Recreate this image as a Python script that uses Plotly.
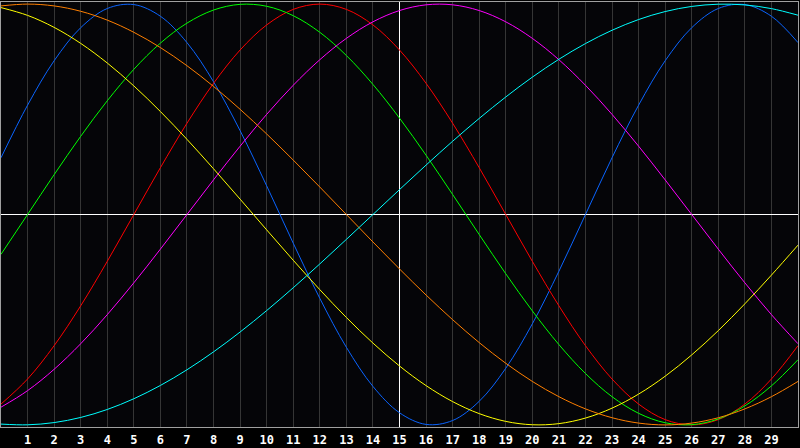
import plotly.graph_objects as go

days = list(range(0, 31))
tick_vals = list(range(1, 30))
tick_text = [str(v) for v in tick_vals]
today = 15

physical = [0.2698, 0.5196, 0.7308, 0.8879, 0.9791, 0.9977, 0.9423, 0.8170, 0.6311, 0.3984, 0.1362,
            -0.1362, -0.3984, -0.6311, -0.8170, -0.9423, -0.9977, -0.9791, -0.8879, -0.7308, -0.5196,
            -0.2698, 0.0, 0.2698, 0.5196, 0.7308, 0.8879, 0.9791, 0.9977, 0.9423, 0.8170]
emotional = [-0.9010, -0.7818, -0.6235, -0.4339, -0.2225, 0.0, 0.2225, 0.4339, 0.6235, 0.7818, 0.9010,
             0.9749, 1.0, 0.9749, 0.9010, 0.7818, 0.6235, 0.4339, 0.2225, 0.0, -0.2225, -0.4339,
             -0.6235, -0.7818, -0.9010, -0.9749, -1.0, -0.9749, -0.9010, -0.7818, -0.6235]
intellectual = [-0.1893, 0.0, 0.1893, 0.3717, 0.5406, 0.6901, 0.8146, 0.9096, 0.9718, 0.9989, 0.9898,
                0.9450, 0.8660, 0.7557, 0.6182, 0.4582, 0.2817, 0.0951, -0.0951, -0.2817, -0.4582,
                -0.6182, -0.7557, -0.8660, -0.9450, -0.9898, -0.9989, -0.9718, -0.9096, -0.8146, -0.6901]
intuitive = [-0.9158, -0.8372, -0.7357, -0.6142, -0.4759, -0.3247, -0.1646, 0.0, 0.1646, 0.3247, 0.4759,
             0.6142, 0.7357, 0.8372, 0.9158, 0.9694, 0.9966, 0.9966, 0.9694, 0.9158, 0.8372, 0.7357,
             0.6142, 0.4759, 0.3247, 0.1646, 0.0, -0.1646, -0.3247, -0.4759, -0.6142]
aesthetic = [0.9834, 0.9464, 0.8893, 0.8133, 0.7200, 0.6112, 0.4894, 0.3572, 0.2174, 0.0730, -0.0730,
             -0.2174, -0.3572, -0.4894, -0.6112, -0.7200, -0.8133, -0.8893, -0.9464, -0.9834, -0.9993,
             -0.9940, -0.9675, -0.9204, -0.8536, -0.7686, -0.6673, -0.5518, -0.4244, -0.2881, -0.1456]
awareness = [0.9914, 1.0, 0.9914, 0.9659, 0.9239, 0.8660, 0.7934, 0.7071, 0.6088, 0.5, 0.3827, 0.2588,
             0.1305, 0.0, -0.1305, -0.2588, -0.3827, -0.5, -0.6088, -0.7071, -0.7934, -0.8660, -0.9239,
             -0.9659, -0.9914, -1.0, -0.9914, -0.9659, -0.9239, -0.8660, -0.7934]
spiritual = [-0.9961, -0.9996, -0.9890, -0.9646, -0.9267, -0.8757, -0.8125, -0.7379, -0.6529, -0.5586,
             -0.4566, -0.3482, -0.2349, -0.1183, 0.0, 0.1183, 0.2349, 0.3482, 0.4566, 0.5586, 0.6529,
             0.7379, 0.8125, 0.8757, 0.9267, 0.9646, 0.9890, 0.9996, 0.9961, 0.9786, 0.9473]

series = [
    ("Physical", physical, "#0a64ff"),
    ("Emotional", emotional, "#ff0000"),
    ("Intellectual", intellectual, "#00ff00"),
    ("Intuitive", intuitive, "#ff00ff"),
    ("Aesthetic", aesthetic, "#ffff00"),
    ("Awareness", awareness, "#ff7f00"),
    ("Spiritual", spiritual, "#00ffff"),
]

fig = go.Figure()
# anchor trace so the overlaying "today" axis (white gridline) is rendered
fig.add_trace(go.Scatter(x=[today], y=[0], xaxis="x2", mode="lines", showlegend=False,
                         hoverinfo="skip", line=dict(width=0)))
for name, vals, color in series:
    fig.add_trace(go.Scatter(x=days, y=vals, mode="lines", name=name,
                             line=dict(color=color, width=1, shape="spline"),
                             hoverinfo="skip"))

fig.update_layout(
    width=800, height=448,
    margin=dict(l=1, r=1, t=1, b=20),
    paper_bgcolor="#000000",
    plot_bgcolor="#050508",
    showlegend=False,
    hovermode=False,
    xaxis=dict(range=[0, 30], tickmode="array", tickvals=tick_vals, ticktext=tick_text,
               showgrid=True, gridcolor="#353535", gridwidth=1, zeroline=False,
               showline=True, linecolor="#a0a0a0", linewidth=1, mirror=True,
               ticks="outside", ticklen=2, tickcolor="#000000",
               tickfont=dict(family="DejaVu Sans Mono", size=12, color="#ffffff", weight="bold")),
    xaxis2=dict(overlaying="x", range=[0, 30], tickmode="array", tickvals=[today],
                showgrid=True, gridcolor="#ffffff", gridwidth=1, showticklabels=False,
                zeroline=False, showline=False, ticks=""),
    yaxis=dict(range=[-1.01, 1.01], showgrid=False, zeroline=True, zerolinecolor="#ffffff",
               zerolinewidth=1, showticklabels=False,
               showline=True, linecolor="#a0a0a0", linewidth=1, mirror=True, ticks=""),
)

fig.write_html("out.html", config={"displayModeBar": False},
               post_script="document.body.style.margin='0';document.body.style.background='#000';")
